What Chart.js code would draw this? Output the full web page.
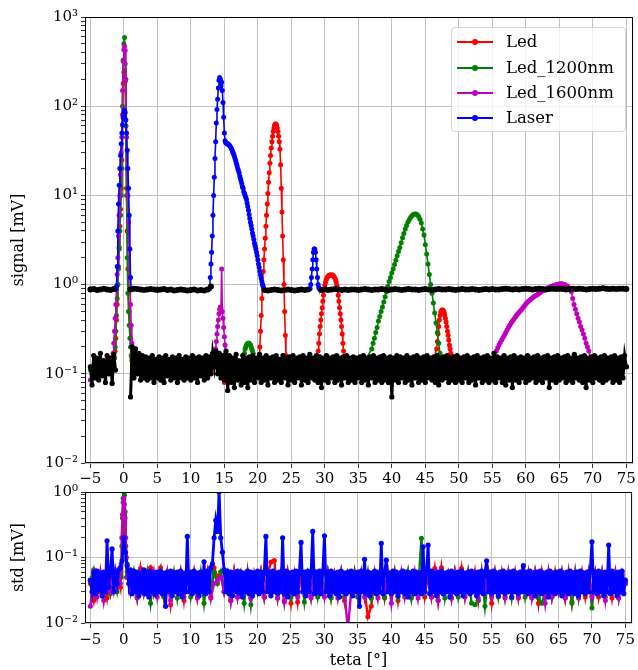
<!DOCTYPE html>
<html>
<head>
<meta charset="utf-8">
<script src="https://cdn.jsdelivr.net/npm/chart.js@4.4.1/dist/chart.umd.min.js"></script>
<style>
body { margin: 0; background: #fff; }
#wrap { position: relative; width: 638px; height: 670px; }
#top { position: absolute; left: 0; top: 0; }
#bot { position: absolute; left: 0; top: 478px; }
#legend { position: absolute; left: 451px; top: 27px; width: 173px; height: 103px;
  border: 1px solid #d3d3d3; border-radius: 4px; background: rgba(255,255,255,0.8);
  font-family: 'DejaVu Serif'; font-size: 16.5px; color: #000; }
#legend .row { position: absolute; left: 0; height: 20px; line-height: 20px; width: 100%; }
#legend .ln { position: absolute; left: 5px; top: 9px; width: 36px; height: 2px; }
#legend .dot { position: absolute; left: 20px; top: 7px; width: 6px; height: 6px; border-radius: 3px; }
#legend .tx { position: absolute; left: 54px; top: 0; white-space: nowrap; }
</style>
</head>
<body>
<div id="wrap">
  <canvas id="top" width="638" height="490"></canvas>
  <canvas id="bot" width="638" height="192"></canvas>
  <div id="legend"></div>
</div>
<script>
// x axis
var xTicks = [-5, 0, 5, 10, 15, 20, 25, 30, 35, 40, 45, 50, 55, 60, 65, 70, 75];
var xMin = -5.8, xMax = 76;

var names = ['Led', 'Led_1200nm', 'Led_1600nm', 'Laser'];
var colors = ['#ff0000', '#008000', '#bf00bf', '#0000ff'];

// ---------- signal (top panel) ----------
// black reference, flat part, x from -5 step 0.5
var refFlat = [0.88, 0.89, 0.87, 0.88, 0.9, 0.88, 0.87, 0.89,
  null, null, null, null,
  0.88, 0.9, 0.89, 0.88, 0.87, 0.88, 0.89, 0.88, 0.87, 0.88, 0.89, 0.87,
  0.88, 0.86, 0.87, 0.88, 0.87, 0.86, 0.87, 0.88, 0.86, 0.87, 0.86, 0.88,
  0.95,
  null, null, null, null, null, null, null, null, null, null, null, null, null, null, null,
  0.87, 0.86, 0.87, 0.88, 0.87, 0.86, 0.87, 0.88, 0.87, 0.86, 0.87, 0.88, 0.87, 0.88,
  null, null, null,
  0.87, 0.88, 0.87, 0.88, 0.89, 0.88, 0.87, 0.88, 0.87, 0.88,
  0.88, 0.87, 0.88, 0.89, 0.88, 0.87, 0.88, 0.88, 0.89, 0.88,
  0.87, 0.88, 0.89, 0.88, 0.87, 0.88, 0.89, 0.88, 0.88, 0.87,
  0.88, 0.89, 0.88, 0.87, 0.88, 0.89, 0.88, 0.88, 0.89, 0.88,
  0.87, 0.88, 0.89, 0.88, 0.88, 0.89, 0.88, 0.87, 0.88, 0.89,
  0.88, 0.89, 0.88, 0.88, 0.89, 0.9, 0.89, 0.88, 0.89, 0.88,
  0.89, 0.9, 0.89, 0.88, 0.89, 0.9, 0.89, 0.88, 0.89, 0.9,
  0.89, 0.9, 0.89, 0.88, 0.89, 0.9, 0.89, 0.9, 0.89, 0.88,
  0.89, 0.9, 0.89, 0.9, 0.91, 0.9, 0.89, 0.9, 0.89, 0.9,
  0.9, 0.89];

// black reference, noise part, x from -5 step 0.25
var refNoise = [
  0.12, 0.075, 0.16, 0.09, 0.15, 0.085, 0.17, 0.095, 0.14, 0.08, 0.16, 0.1, 0.15, 0.078, 0.165, 0.11, null, null, null, null,
  null, null, null, null, 0.055, 0.2, 0.09, 0.19, 0.1, 0.17, 0.085, 0.16, 0.09, 0.155, 0.085, 0.15, 0.09, 0.16, 0.08, 0.145,
  0.09, 0.155, 0.085, 0.15, 0.08, 0.16, 0.095, 0.145, 0.085, 0.155, 0.09, 0.15, 0.08, 0.16, 0.09, 0.145, 0.085, 0.155, 0.09, 0.15,
  0.085, 0.16, 0.09, 0.15, 0.08, 0.155, 0.095, 0.15, 0.085, 0.16, 0.09, 0.155, 0.1, 0.17, 0.12, 0.18, 0.1, 0.17, 0.09, 0.16,
  0.085, 0.18, 0.065, 0.16, 0.08, 0.15, 0.07, 0.165, 0.085, 0.14, 0.075, 0.16, 0.08, 0.15, 0.07, 0.155, 0.085, 0.16, 0.08, 0.15,
  0.09, 0.165, 0.08, 0.15, 0.085, 0.16, 0.075, 0.15, 0.09, 0.155, 0.08, 0.16, 0.085, 0.145, 0.08, 0.16, 0.09, 0.15, 0.075, 0.155,
  0.085, 0.16, 0.08, 0.15, 0.09, 0.155, 0.075, 0.16, 0.085, 0.15, 0.08, 0.165, 0.09, 0.15, 0.085, 0.16, 0.08, 0.155, 0.07, 0.15,
  0.085, 0.16, 0.08, 0.15, 0.09, 0.155, 0.08, 0.16, 0.085, 0.15, 0.075, 0.155, 0.09, 0.16, 0.08, 0.15, 0.085, 0.155, 0.08, 0.15,
  0.09, 0.155, 0.08, 0.16, 0.085, 0.15, 0.075, 0.155, 0.09, 0.16, 0.08, 0.15, 0.085, 0.155, 0.08, 0.16, 0.085, 0.15, 0.08, 0.155,
  0.055, 0.15, 0.085, 0.16, 0.08, 0.155, 0.09, 0.15, 0.08, 0.16, 0.085, 0.15, 0.075, 0.155, 0.09, 0.16, 0.08, 0.15, 0.085, 0.155,
  0.08, 0.16, 0.09, 0.15, 0.085, 0.155, 0.08, 0.16, 0.075, 0.15, 0.085, 0.155, 0.09, 0.16, 0.08, 0.15, 0.085, 0.155, 0.08, 0.16,
  0.085, 0.15, 0.08, 0.155, 0.09, 0.16, 0.08, 0.15, 0.085, 0.155, 0.075, 0.16, 0.09, 0.15, 0.08, 0.155, 0.085, 0.16, 0.08, 0.15,
  0.085, 0.17, 0.08, 0.155, 0.09, 0.15, 0.08, 0.16, 0.075, 0.15, 0.085, 0.155, 0.07, 0.16, 0.085, 0.15, 0.08, 0.155, 0.09, 0.15,
  0.08, 0.16, 0.085, 0.15, 0.09, 0.155, 0.08, 0.16, 0.085, 0.15, 0.08, 0.155, 0.09, 0.16, 0.07, 0.15, 0.085, 0.155, 0.08, 0.16,
  0.085, 0.15, 0.09, 0.155, 0.08, 0.16, 0.085, 0.15, 0.08, 0.165, 0.09, 0.15, 0.085, 0.155, 0.08, 0.16, 0.07, 0.15, 0.085, 0.155,
  0.08, 0.16, 0.09, 0.15, 0.085, 0.155, 0.08, 0.16, 0.085, 0.15, 0.09, 0.155, 0.08, 0.16, 0.085, 0.15, 0.08, 0.155, 0.09, 0.16,
  0.12];

// colored backgrounds, x from -5 step 1
var ledNoise = [0.12, 0.1, 0.14, 0.11, 0.13, 0.1, 0.15, 0.12, 0.11, 0.13, 0.1, 0.14, 0.12, 0.11, 0.13, 0.1, 0.12, 0.15, 0.11, 0.13,
  0.08, 0.12, 0.14, 0.11, 0.13, 0.1, 0.12, 0.14, 0.11, 0.12, 0.1, 0.13, 0.14, 0.11, 0.12, 0.1, 0.13, 0.14, 0.11, 0.12,
  0.1, 0.13, 0.14, 0.1, 0.12, 0.11, 0.13, 0.14, 0.11, 0.12, 0.1, 0.13, 0.14, 0.11, 0.12, 0.1, 0.13, 0.14, 0.11, 0.12,
  0.1, 0.12, 0.13, 0.11, 0.14, 0.1, 0.12, 0.13, 0.11, 0.14, 0.1, 0.12, 0.13, 0.11, 0.14, 0.1, 0.12, 0.13, 0.11, 0.14, 0.12];
var g12Noise = [0.11, 0.13, 0.1, 0.14, 0.12, 0.11, 0.13, 0.1, 0.14, 0.12, 0.11, 0.13, 0.1, 0.14, 0.12, 0.11, 0.13, 0.1, 0.14, 0.12,
  0.1, 0.13, 0.11, 0.14, 0.12, 0.1, 0.13, 0.11, 0.14, 0.12, 0.1, 0.13, 0.11, 0.14, 0.12, 0.1, 0.13, 0.11, 0.14, 0.12,
  0.11, 0.14, 0.1, 0.13, 0.12, 0.11, 0.14, 0.1, 0.13, 0.12, 0.11, 0.14, 0.1, 0.13, 0.12, 0.11, 0.14, 0.1, 0.13, 0.12,
  0.11, 0.13, 0.12, 0.14, 0.1, 0.11, 0.13, 0.12, 0.14, 0.1, 0.11, 0.13, 0.12, 0.14, 0.1, 0.11, 0.13, 0.12, 0.14, 0.1, 0.12];
var g16Noise = [0.085, 0.12, 0.14, 0.1, 0.13, 0.11, 0.12, 0.14, 0.1, 0.13, 0.11, 0.12, 0.14, 0.1, 0.13, 0.11, 0.12, 0.14, 0.1, 0.13,
  0.11, 0.12, 0.14, 0.1, 0.13, 0.11, 0.12, 0.14, 0.1, 0.13, 0.12, 0.1, 0.14, 0.11, 0.13, 0.12, 0.1, 0.14, 0.11, 0.13,
  0.12, 0.1, 0.14, 0.11, 0.13, 0.12, 0.1, 0.14, 0.11, 0.13, 0.12, 0.14, 0.1, 0.11, 0.13, 0.12, 0.14, 0.1, 0.11, 0.13,
  0.12, 0.14, 0.1, 0.11, 0.13, 0.12, 0.14, 0.1, 0.11, 0.13, 0.12, 0.13, 0.11, 0.1, 0.14, 0.12, 0.13, 0.11, 0.1, 0.14, 0.12];
// laser baseline, x from -5 step 5
var laserBase = [0.89, 0.88, 0.89, 0.88, 0.87, 0.87, 0.87, 0.88, 0.88, 0.88, 0.88, 0.88, 0.89, 0.89, 0.89, 0.9, 0.9];

// peaks (start x, step 0.1 unless noted)
var ledPeak0 = [0.15, 0.18, 0.25, 0.4, 0.6, 1.0, 1.6, 2.6, 4.5, 7, 12, 25, 80, 180, 240, 250, 190, 60, 12, 4, 1.5, 0.8, 0.5, 0.35, 0.25, 0.2, 0.15, 0.13]; // -1.4
var ledPeak22 = [0.15, 0.2, 0.3, 0.45, 0.7, 1.0, 1.4, 1.9, 2.5, 3.3, 4.5, 6, 8, 10.5, 14, 18, 23, 28, 34, 40, 46, 52, 57, 61, 63, 63, 61,
  57, 52, 46, 40, 33, 22, 12, 6.5, 3.5, 1.9, 1.0, 0.5, 0.27, 0.16]; // 20.2
var ledPeak31 = [0.18, 0.22, 0.28, 0.34, 0.4, 0.47, 0.55, 0.65, 0.76, 0.88, 0.98, 1.06, 1.13, 1.18, 1.22, 1.25, 1.26, 1.27, 1.28, 1.28,
  1.28, 1.28, 1.27, 1.25, 1.22, 1.18, 1.13, 1.06, 0.98, 0.88, 0.76, 0.65, 0.55, 0.47, 0.4, 0.34, 0.28, 0.22, 0.18]; // 29.0
var ledPeak47 = [0.19, 0.23, 0.28, 0.34, 0.4, 0.45, 0.49, 0.51, 0.52, 0.52, 0.51, 0.49, 0.46, 0.42, 0.38, 0.34, 0.3, 0.27, 0.24, 0.21, 0.19, 0.17, 0.16]; // 46.7
var g12Peak0 = [0.15, 0.2, 0.3, 0.45, 0.7, 1.0, 1.5, 2.5, 4, 6, 10, 20, 100, 330, 500, 590, 300, 60, 10, 2, 0.8, 0.5, 0.35, 0.25, 0.2, 0.16, 0.14, 0.13]; // -1.4
var g12Bump18 = [0.13, 0.15, 0.17, 0.19, 0.2, 0.21, 0.215, 0.22, 0.22, 0.22, 0.215, 0.21, 0.2, 0.19, 0.18, 0.17, 0.15, 0.14, 0.13]; // 17.8
var g12Peak43 = [0.19, 0.22, 0.25, 0.29, 0.33, 0.39, 0.44, 0.5, 0.56, 0.64, 0.73, 0.83, 0.95, 1.08, 1.2, 1.35, 1.5, 1.68, 1.88, 2.1,
  2.35, 2.6, 2.95, 3.35, 3.75, 4.2, 4.6, 5.0, 5.35, 5.65, 5.9, 6.1, 6.2, 6.2, 6.05, 5.8, 5.4, 4.9, 4.2, 3.6,
  2.8, 2.2, 1.7, 1.3, 1.0, 0.8, 0.62, 0.48, 0.37, 0.29, 0.22, 0.17]; // 37.0 step 0.2
var g16Peak0 = [0.17, 0.22, 0.3, 0.42, 0.6, 0.9, 1.3, 2, 3.5, 6, 10, 17, 30, 45, 150, 320, 430, 470, 420, 200, 45, 20, 10, 5, 2.5,
  1.2, 0.6, 0.35, 0.22, 0.16, 0.13]; // -1.6
var g16Peak14 = [0.16, 0.19, 0.23, 0.28, 0.34, 0.4, 0.47, 0.53, 0.56, 0.55, 1.5, 0.5, 0.42, 0.33, 0.26, 0.21, 0.17, 0.14]; // 13.6
var g16Peak62 = [0.18, 0.195, 0.21, 0.225, 0.24, 0.255, 0.27, 0.29, 0.31, 0.33, 0.35, 0.37, 0.39, 0.41, 0.43, 0.45, 0.47, 0.49, 0.51, 0.53,
  0.555, 0.58, 0.605, 0.63, 0.65, 0.67, 0.69, 0.71, 0.73, 0.75, 0.76, 0.78, 0.8, 0.82, 0.84, 0.86, 0.875, 0.89, 0.91, 0.925,
  0.94, 0.95, 0.96, 0.975, 0.99, 1.0, 1.01, 1.015, 1.02, 1.02, 1.01, 1.0, 0.98, 0.96, 0.93, 0.89, 0.83, 0.7, 0.6, 0.53,
  0.47, 0.42, 0.38, 0.34, 0.31, 0.28, 0.25, 0.22, 0.2, 0.18]; // 55.6 step 0.2
var laserPeak0 = [0.88, 0.95, 1.6, 4, 8, 13, 20, 28, 38, 50, 62, 75, 85, 90, 85, 70, 50, 32, 20, 12, 6, 2.5, 1.2, 0.88]; // -1.2
var laserPeak14 = [0.9, 1.2, 1.7, 2.3, 3.5, 6, 10, 16, 26, 40, 65, 92, 120, 160, 195, 210, 200, 170, 185, 150, 110, 75, 50, 41, 39, 39,
  38, 38, 37.5, 37, 36, 35, 34, 33, 31.5, 30, 29, 27.5, 26, 24.5, 23, 21.5,
  20, 19, 18, 16.5, 15.5, 14.5, 13.5, 12.5, 12, 11, 10.5, 10, 9.5, 9, 8.2, 7.5, 6.8, 6.1, 5.5, 5, 4.6, 4.2, 3.8, 3.5,
  3.2, 2.9, 2.7, 2.5, 2.3, 2.1, 1.9, 1.7, 1.55, 1.4, 1.28, 1.17, 1.08, 1.0, 0.95, 0.9]; // 12.8
var laserPeak28 = [0.9, 1.0, 1.2, 1.5, 1.9, 2.3, 2.5, 2.5, 2.3, 1.9, 1.5, 1.2, 1.0, 0.92, 0.9, 0.88, 0.88, 0.88]; // 27.8

// ---------- std (bottom panel) ----------
// laser, x from -5 step 0.25
var laserStd = [
  0.045, 0.03, 0.06, 0.028, 0.062, 0.032, 0.058, 0.026, 0.06, 0.03, 0.18, 0.035, 0.06, 0.135, 0.03, 0.058, 0.04, 0.065, 0.07, 0.09,
  0.2, 0.12, 0.075, 0.04, 0.065, 0.028, 0.062, 0.03, 0.06, 0.026, 0.058, 0.03, 0.065, 0.028, 0.06, 0.025, 0.062, 0.03, 0.058, 0.027,
  0.06, 0.03, 0.062, 0.028, 0.058, 0.018, 0.06, 0.03, 0.062, 0.026, 0.058, 0.03, 0.06, 0.028, 0.062, 0.025, 0.058, 0.03, 0.21, 0.03,
  0.06, 0.028, 0.062, 0.03, 0.058, 0.026, 0.06, 0.03, 0.086, 0.028, 0.062, 0.03, 0.07, 0.08, 0.2, 0.37, 0.25, 1.0, 0.2, 0.12,
  0.065, 0.03, 0.062, 0.028, 0.06, 0.026, 0.058, 0.03, 0.062, 0.028, 0.06, 0.025, 0.058, 0.03, 0.062, 0.028, 0.06, 0.026, 0.058, 0.03,
  0.062, 0.028, 0.06, 0.03, 0.058, 0.21, 0.03, 0.06, 0.026, 0.062, 0.03, 0.058, 0.028, 0.06, 0.03, 0.2, 0.028, 0.062, 0.025, 0.058,
  0.03, 0.06, 0.028, 0.062, 0.03, 0.058, 0.17, 0.03, 0.06, 0.026, 0.062, 0.03, 0.058, 0.25, 0.028, 0.06, 0.03, 0.062, 0.028, 0.058,
  0.215, 0.03, 0.06, 0.026, 0.062, 0.03, 0.058, 0.028, 0.06, 0.025, 0.062, 0.03, 0.058, 0.028, 0.06, 0.03, 0.062, 0.026, 0.058, 0.03,
  0.06, 0.018, 0.062, 0.03, 0.094, 0.028, 0.06, 0.026, 0.058, 0.03, 0.062, 0.028, 0.06, 0.03, 0.165, 0.028, 0.06, 0.091, 0.03, 0.058,
  0.028, 0.062, 0.03, 0.06, 0.026, 0.058, 0.03, 0.062, 0.028, 0.06, 0.025, 0.058, 0.03, 0.062, 0.028, 0.06, 0.03, 0.058, 0.028, 0.146,
  0.03, 0.06, 0.155, 0.028, 0.062, 0.03, 0.058, 0.026, 0.06, 0.03, 0.062, 0.028, 0.058, 0.03, 0.06, 0.025, 0.062, 0.03, 0.058, 0.028,
  0.06, 0.03, 0.062, 0.026, 0.058, 0.03, 0.06, 0.028, 0.062, 0.03, 0.058, 0.026, 0.06, 0.03, 0.062, 0.028, 0.058, 0.089, 0.03, 0.06,
  0.028, 0.062, 0.03, 0.058, 0.026, 0.06, 0.03, 0.062, 0.028, 0.058, 0.03, 0.06, 0.025, 0.062, 0.03, 0.058, 0.028, 0.06, 0.03, 0.075,
  0.03, 0.06, 0.028, 0.062, 0.03, 0.058, 0.026, 0.06, 0.03, 0.062, 0.028, 0.058, 0.03, 0.06, 0.025, 0.062, 0.03, 0.058, 0.028, 0.06,
  0.03, 0.062, 0.026, 0.058, 0.03, 0.06, 0.028, 0.062, 0.03, 0.058, 0.028, 0.06, 0.026, 0.062, 0.03, 0.058, 0.028, 0.06, 0.03, 0.062,
  0.174, 0.03, 0.06, 0.028, 0.062, 0.03, 0.058, 0.026, 0.06, 0.03, 0.155, 0.028, 0.062, 0.03, 0.058, 0.026, 0.06, 0.03, 0.062, 0.028,
  0.045];
// LEDs, x from -5 step 0.5
var ledStd = [
  0.04, 0.022, 0.055, 0.03, 0.05, 0.024, 0.055, 0.03, 0.06, 0.035,
  0.5, 0.06, 0.03, 0.055, 0.024, 0.068, 0.03, 0.055, 0.07, 0.028,
  0.05, 0.07, 0.025, 0.055, 0.019, 0.05, 0.03, 0.06, 0.022, 0.055,
  0.03, 0.06, 0.024, 0.055, 0.03, 0.06, 0.025, 0.07, 0.05, 0.06,
  0.03, 0.055, 0.022, 0.06, 0.025, 0.055, 0.03, 0.06, 0.024, 0.05,
  0.03, 0.06, 0.025, 0.055, 0.085, 0.09, 0.03, 0.055, 0.022, 0.05,
  0.02, 0.055, 0.021, 0.06, 0.03, 0.055, 0.025, 0.06, 0.03, 0.05,
  0.03, 0.06, 0.025, 0.055, 0.03, 0.06, 0.022, 0.055, 0.03, 0.06,
  0.025, 0.055, 0.03, 0.0125, 0.018, 0.05, 0.03, 0.06, 0.024, 0.055,
  0.03, 0.06, 0.022, 0.055, 0.03, 0.06, 0.025, 0.055, 0.03, 0.06,
  0.025, 0.055, 0.03, 0.068, 0.022, 0.07, 0.03, 0.055, 0.024, 0.06,
  0.03, 0.068, 0.025, 0.055, 0.03, 0.06, 0.022, 0.055, 0.03, 0.06,
  0.02, 0.055, 0.03, 0.06, 0.025, 0.055, 0.03, 0.06, 0.024, 0.055,
  0.03, 0.06, 0.025, 0.055, 0.02, 0.06, 0.03, 0.055, 0.025, 0.06,
  0.03, 0.055, 0.024, 0.06, 0.021, 0.055, 0.03, 0.06, 0.025, 0.055,
  0.03, 0.06, 0.025, 0.055, 0.03, 0.06, 0.024, 0.055, 0.03, 0.06,
  0.04];
var g12Std = [
  0.045, 0.065, 0.03, 0.055, 0.025, 0.06, 0.028, 0.055, 0.03, 0.06,
  0.08, 0.08, 0.03, 0.06, 0.025, 0.055, 0.03, 0.06, 0.02, 0.055,
  0.03, 0.06, 0.025, 0.055, 0.03, 0.06, 0.024, 0.055, 0.03, 0.06,
  0.025, 0.055, 0.03, 0.06, 0.02, 0.055, 0.03, 0.06, 0.04, 0.06,
  0.03, 0.055, 0.025, 0.06, 0.03, 0.055, 0.02, 0.06, 0.019, 0.055,
  0.03, 0.06, 0.025, 0.055, 0.03, 0.06, 0.024, 0.055, 0.03, 0.06,
  0.025, 0.055, 0.03, 0.06, 0.021, 0.055, 0.03, 0.06, 0.025, 0.055,
  0.03, 0.06, 0.024, 0.055, 0.03, 0.06, 0.025, 0.055, 0.03, 0.06,
  0.025, 0.055, 0.03, 0.06, 0.024, 0.055, 0.03, 0.06, 0.025, 0.055,
  0.03, 0.06, 0.025, 0.055, 0.03, 0.06, 0.024, 0.055, 0.03, 0.196,
  0.03, 0.06, 0.025, 0.055, 0.03, 0.06, 0.024, 0.055, 0.03, 0.06,
  0.025, 0.055, 0.03, 0.06, 0.02, 0.019, 0.022, 0.06, 0.018, 0.055,
  0.03, 0.06, 0.025, 0.055, 0.03, 0.06, 0.024, 0.055, 0.03, 0.06,
  0.025, 0.055, 0.03, 0.06, 0.024, 0.02, 0.03, 0.06, 0.025, 0.055,
  0.03, 0.06, 0.025, 0.055, 0.02, 0.06, 0.024, 0.055, 0.03, 0.06,
  0.017, 0.055, 0.03, 0.06, 0.025, 0.055, 0.03, 0.06, 0.024, 0.055,
  0.04];
var g16Std = [
  0.018, 0.055, 0.025, 0.06, 0.022, 0.055, 0.03, 0.06, 0.035, 0.05,
  0.06, 0.07, 0.03, 0.055, 0.025, 0.06, 0.028, 0.055, 0.03, 0.06,
  0.025, 0.055, 0.03, 0.06, 0.022, 0.055, 0.03, 0.06, 0.025, 0.055,
  0.03, 0.06, 0.025, 0.055, 0.03, 0.06, 0.024, 0.04, 0.045, 0.05,
  0.03, 0.055, 0.022, 0.06, 0.025, 0.055, 0.03, 0.06, 0.024, 0.055,
  0.03, 0.06, 0.025, 0.055, 0.03, 0.06, 0.024, 0.055, 0.021, 0.06,
  0.03, 0.055, 0.025, 0.06, 0.03, 0.055, 0.024, 0.06, 0.03, 0.055,
  0.025, 0.06, 0.03, 0.055, 0.024, 0.06, 0.03, 0.008, 0.03, 0.055,
  0.03, 0.06, 0.025, 0.055, 0.03, 0.06, 0.024, 0.055, 0.03, 0.06,
  0.02, 0.055, 0.03, 0.06, 0.025, 0.055, 0.03, 0.06, 0.024, 0.055,
  0.03, 0.06, 0.025, 0.055, 0.022, 0.06, 0.03, 0.055, 0.024, 0.06,
  0.03, 0.055, 0.025, 0.06, 0.03, 0.055, 0.024, 0.06, 0.03, 0.055,
  0.025, 0.06, 0.03, 0.055, 0.024, 0.06, 0.03, 0.055, 0.025, 0.06,
  0.03, 0.055, 0.024, 0.06, 0.03, 0.055, 0.02, 0.06, 0.025, 0.055,
  0.03, 0.06, 0.024, 0.055, 0.03, 0.06, 0.025, 0.055, 0.03, 0.06,
  0.025, 0.055, 0.03, 0.06, 0.022, 0.055, 0.03, 0.06, 0.024, 0.055,
  0.04];
var g16StdPeak0 = [0.04, 0.08, 0.2, 0.45, 0.7, 0.8, 0.65, 0.4, 0.2, 0.1, 0.05]; // -0.5
var g12StdPeak0 = [0.05, 0.15, 0.4, 0.8, 1.0, 0.9, 0.5, 0.15, 0.05]; // -0.4

// ---------- helpers ----------
function pts(x0, dx, ys) {
  return ys.map(function (y, i) { return { x: +(x0 + i * dx).toFixed(3), y: y }; });
}
function series(base, segs) {
  var spans = segs.map(function (s) { return [s[0].x, s[s.length - 1].x]; });
  var keep = base.filter(function (p) {
    return !spans.some(function (r) { return p.x >= r[0] && p.x <= r[1]; });
  });
  return keep.concat.apply(keep, segs).sort(function (a, b) { return a.x - b.x; });
}
function ds(label, data, color, order, lw, r) {
  return { label: label, data: data, order: order, borderColor: color, backgroundColor: color,
    pointBackgroundColor: color, borderWidth: lw || 1.6, pointRadius: r || 2.5, pointBorderWidth: 0,
    pointHoverRadius: 0, spanGaps: false, tension: 0 };
}
var sup = { '-': '\u207B', '0': '\u2070', '1': '\u00B9', '2': '\u00B2', '3': '\u00B3' };
function powLabel(v) {
  var e = Math.round(Math.log10(v));
  return '10' + String(e).split('').map(function (c) { return sup[c]; }).join('');
}
function logTicks(lo, hi) {
  var t = [];
  for (var e = lo; e < hi; e++) {
    for (var m = 1; m < 10; m++) t.push({ value: m * Math.pow(10, e), isMajor: m === 1 });
  }
  t.push({ value: Math.pow(10, hi), isMajor: true });
  return t;
}
var font = { family: 'DejaVu Serif', size: 15 };
var titleFont = { family: 'DejaVu Serif', size: 16 };

function xScale(title, pad, h) {
  return {
    type: 'linear', min: xMin, max: xMax,
    afterBuildTicks: function (s) { s.ticks = xTicks.map(function (v) { return { value: v }; }); },
    afterFit: function (s) { s.height = h; },
    ticks: { font: font, color: '#000', maxRotation: 0, autoSkip: false, padding: pad,
      callback: function (v) { return v < 0 ? '\u2212' + Math.abs(v) : String(v); } },
    grid: { color: '#b0b0b0', lineWidth: 0.8, tickColor: '#000', tickLength: 5 },
    border: { display: false },
    title: title ? { display: true, text: title, font: titleFont, color: '#000', padding: { top: 0, bottom: 0 } } : { display: false }
  };
}
function yScale(title, lo, hi) {
  return {
    type: 'logarithmic', min: Math.pow(10, lo), max: Math.pow(10, hi),
    afterBuildTicks: function (s) { s.ticks = logTicks(lo, hi); },
    afterFit: function (s) { s.width = 85; },
    ticks: { font: font, color: '#000', autoSkip: false, padding: 3,
      callback: function (v, i, t) { return t[i].isMajor ? powLabel(v) : ''; } },
    grid: { color: function (c) { return c.tick && c.tick.isMajor ? '#b0b0b0' : 'rgba(0,0,0,0)'; },
      lineWidth: 0.8, tickColor: '#000', tickLength: 4 },
    border: { display: false },
    title: { display: true, text: title, font: titleFont, color: '#000', padding: { top: 9, bottom: 0 } }
  };
}
var frame = { id: 'frame', afterDraw: function (c) {
  var a = c.chartArea, ctx = c.ctx;
  ctx.save(); ctx.strokeStyle = '#000'; ctx.lineWidth = 1;
  ctx.strokeRect(a.left + 0.5, a.top + 0.5, a.right - a.left - 1, a.bottom - a.top - 1);
  ctx.restore();
} };
function opts(yS, xS, padTop) {
  return { responsive: false, animation: false, devicePixelRatio: 1, events: [],
    layout: { padding: { left: 0, right: 5, top: padTop, bottom: 0 } },
    plugins: { legend: { display: false }, tooltip: { enabled: false } },
    scales: { x: xS, y: yS } };
}

// ---------- top chart ----------
var ledTop = series(pts(-5, 1, ledNoise), [pts(-1.4, 0.1, ledPeak0), pts(20.2, 0.1, ledPeak22), pts(29.0, 0.1, ledPeak31), pts(46.7, 0.1, ledPeak47)]);
var g12Top = series(pts(-5, 1, g12Noise), [pts(-1.4, 0.1, g12Peak0), pts(17.8, 0.1, g12Bump18), pts(37.0, 0.2, g12Peak43)]);
var g16Top = series(pts(-5, 1, g16Noise), [pts(-1.6, 0.1, g16Peak0), pts(13.6, 0.1, g16Peak14), pts(55.6, 0.2, g16Peak62)]);
var laserTop = series(pts(-5, 5, laserBase), [pts(-1.2, 0.1, laserPeak0), pts(12.8, 0.1, laserPeak14), pts(27.8, 0.1, laserPeak28)]);

new Chart(document.getElementById('top'), {
  type: 'line',
  data: { datasets: [
    ds(names[0], ledTop, colors[0], 5),
    ds(names[1], g12Top, colors[1], 4),
    ds(names[2], g16Top, colors[2], 3),
    ds(names[3], laserTop, colors[3], 2),
    ds('ref', pts(-5, 0.25, refNoise), '#000', 1, 3, 2.6),
    ds('ref flat', pts(-5, 0.5, refFlat), '#000', 0, 4, 3)
  ] },
  options: opts(yScale('signal [mV]', -2, 3), xScale(null, 2, 27), 17),
  plugins: [frame]
});

// ---------- bottom chart ----------
new Chart(document.getElementById('bot'), {
  type: 'line',
  data: { datasets: [
    ds(names[0], pts(-5, 0.5, ledStd), colors[0], 3, 2.4),
    ds(names[1], series(pts(-5, 0.5, g12Std), [pts(-0.4, 0.1, g12StdPeak0)]), colors[1], 2, 2.4),
    ds(names[2], series(pts(-5, 0.5, g16Std), [pts(-0.5, 0.1, g16StdPeak0)]), colors[2], 1, 2.4),
    ds(names[3], pts(-5, 0.25, laserStd), colors[3], 0, 2.8, 2.6)
  ] },
  options: opts(yScale('std [mV]', -2, 0), xScale('teta [\u00B0]', 3, 47), 14),
  plugins: [frame]
});

// ---------- legend ----------
var leg = document.getElementById('legend');
var rowTop = [4, 30, 55, 80];
names.forEach(function (n, i) {
  var r = document.createElement('div');
  r.className = 'row'; r.style.top = rowTop[i] + 'px';
  r.innerHTML = '<span class="ln" style="background:' + colors[i] + '"></span>' +
    '<span class="dot" style="background:' + colors[i] + '"></span>' +
    '<span class="tx">' + n + '</span>';
  leg.appendChild(r);
});
</script>
</body>
</html>
